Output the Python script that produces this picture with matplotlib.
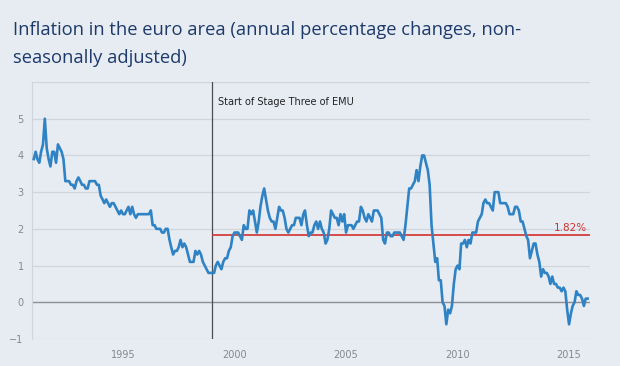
import matplotlib
matplotlib.use("Agg")
import matplotlib.pyplot as plt
import matplotlib.dates as mdates
import pandas as pd

# monthly HICP annual rates, Jan 1991 - Nov 2015, one list per year
y1991 = [3.9, 4.1, 3.9, 3.8, 4.1, 4.3, 5.0, 4.2, 3.9, 3.7, 4.1, 4.1]
y1992 = [3.8, 4.3, 4.2, 4.1, 3.9, 3.3, 3.3, 3.3, 3.2, 3.2, 3.1, 3.3]
y1993 = [3.4, 3.3, 3.2, 3.2, 3.1, 3.1, 3.3, 3.3, 3.3, 3.3, 3.2, 3.2]
y1994 = [2.9, 2.8, 2.7, 2.8, 2.7, 2.6, 2.7, 2.7, 2.6, 2.5, 2.4, 2.5]
y1995 = [2.4, 2.4, 2.5, 2.6, 2.4, 2.6, 2.4, 2.3, 2.4, 2.4, 2.4, 2.4]
y1996 = [2.4, 2.4, 2.4, 2.5, 2.1, 2.1, 2.0, 2.0, 2.0, 1.9, 1.9, 2.0]
y1997 = [2.0, 1.7, 1.5, 1.3, 1.4, 1.4, 1.5, 1.7, 1.5, 1.6, 1.5, 1.3]
y1998 = [1.1, 1.1, 1.1, 1.4, 1.3, 1.4, 1.3, 1.1, 1.0, 0.9, 0.8, 0.8]
y1999 = [0.8, 0.8, 1.0, 1.1, 1.0, 0.9, 1.1, 1.2, 1.2, 1.4, 1.5, 1.8]
y2000 = [1.9, 1.9, 1.9, 1.8, 1.7, 2.1, 2.0, 2.0, 2.5, 2.4, 2.5, 2.2]
y2001 = [1.9, 2.2, 2.6, 2.9, 3.1, 2.8, 2.5, 2.3, 2.2, 2.2, 2.0, 2.3]
y2002 = [2.6, 2.5, 2.5, 2.3, 2.0, 1.9, 2.0, 2.1, 2.1, 2.3, 2.3, 2.3]
y2003 = [2.1, 2.4, 2.5, 2.1, 1.8, 1.9, 1.9, 2.1, 2.2, 2.0, 2.2, 2.0]
y2004 = [1.9, 1.6, 1.7, 2.0, 2.5, 2.4, 2.3, 2.3, 2.1, 2.4, 2.2, 2.4]
y2005 = [1.9, 2.1, 2.1, 2.1, 2.0, 2.1, 2.2, 2.2, 2.6, 2.5, 2.3, 2.2]
y2006 = [2.4, 2.3, 2.2, 2.5, 2.5, 2.5, 2.4, 2.3, 1.7, 1.6, 1.9, 1.9]
y2007 = [1.8, 1.8, 1.9, 1.9, 1.9, 1.9, 1.8, 1.7, 2.1, 2.6, 3.1, 3.1]
y2008 = [3.2, 3.3, 3.6, 3.3, 3.7, 4.0, 4.0, 3.8, 3.6, 3.2, 2.1, 1.6]
y2009 = [1.1, 1.2, 0.6, 0.6, 0.0, -0.1, -0.6, -0.2, -0.3, -0.1, 0.5, 0.9]
y2010 = [1.0, 0.9, 1.6, 1.6, 1.7, 1.5, 1.7, 1.6, 1.9, 1.9, 1.9, 2.2]
y2011 = [2.3, 2.4, 2.7, 2.8, 2.7, 2.7, 2.6, 2.5, 3.0, 3.0, 3.0, 2.7]
y2012 = [2.7, 2.7, 2.7, 2.6, 2.4, 2.4, 2.4, 2.6, 2.6, 2.5, 2.2, 2.2]
y2013 = [2.0, 1.8, 1.7, 1.2, 1.4, 1.6, 1.6, 1.3, 1.1, 0.7, 0.9, 0.8]
y2014 = [0.8, 0.7, 0.5, 0.7, 0.5, 0.5, 0.4, 0.4, 0.3, 0.4, 0.3, -0.2]
y2015 = [-0.6, -0.3, -0.1, 0.0, 0.3, 0.2, 0.2, 0.1, -0.1, 0.1, 0.1]

inflation = (y1991 + y1992 + y1993 + y1994 + y1995 + y1996 + y1997 + y1998
             + y1999 + y2000 + y2001 + y2002 + y2003 + y2004 + y2005 + y2006
             + y2007 + y2008 + y2009 + y2010 + y2011 + y2012 + y2013 + y2014
             + y2015)
months = pd.date_range("1991-01-01", periods=len(inflation), freq="MS")

average_since_emu = 1.82
emu_start = pd.Timestamp("1999-01-01")
tick_years = [1995, 2000, 2005, 2010, 2015]
y_ticks = [-1, 0, 1, 2, 3, 4, 5]

bg = "#e7ecf2"
fig = plt.figure(figsize=(6.2, 3.66), dpi=100, facecolor=bg)
ax = fig.add_axes([32 / 620, 1 - 339 / 366, 558 / 620, 257 / 366], facecolor=bg)

fig.text(13 / 620, 1 - 44 / 366, "Inflation in the euro area (annual percentage changes, non-\nseasonally adjusted)",
         fontsize=13.2, color="#1d3a6b", family="Open Sans", va="center", linespacing=1.75)

x_left = pd.Timestamp("1990-12-03")
x_right = pd.Timestamp("2015-12-10")
ax.set_xlim(x_left, x_right)
ax.set_ylim(-1, 6)

for v in y_ticks + [6]:
    ax.axhline(v, color="#8c8f94" if v == 0 else "#cfd5dd", lw=1.0 if v == 0 else 0.9, zorder=1)

ax.plot(months, inflation, color="#2f82c4", lw=1.9, zorder=3, solid_joinstyle="round")

ax.axvline(emu_start, color="#4a4d52", lw=0.9, zorder=2)
ax.text(pd.Timestamp("1999-04-01"), 5.45, "Start of Stage Three of EMU", fontsize=7, color="#222222",
        va="center", ha="left")

ax.hlines(average_since_emu, emu_start, x_right, color="#d3302f", lw=1.2, zorder=2)
ax.text(pd.Timestamp("2015-10-15"), average_since_emu + 0.07, "1.82%", fontsize=7.5, color="#d3302f",
        ha="right", va="bottom")

ax.set_yticks(y_ticks)
ax.set_xticks([pd.Timestamp(f"{y}-01-01") for y in tick_years])
ax.xaxis.set_major_formatter(mdates.DateFormatter("%Y"))
ax.tick_params(length=0, labelsize=7, labelcolor="#85888d")
ax.tick_params(axis="y", pad=6)
ax.tick_params(axis="x", pad=8)

for side in ["top", "right", "bottom"]:
    ax.spines[side].set_visible(False)
ax.spines["left"].set_color("#cfd5dd")

fig.savefig("out.png", dpi=100, facecolor=bg)
